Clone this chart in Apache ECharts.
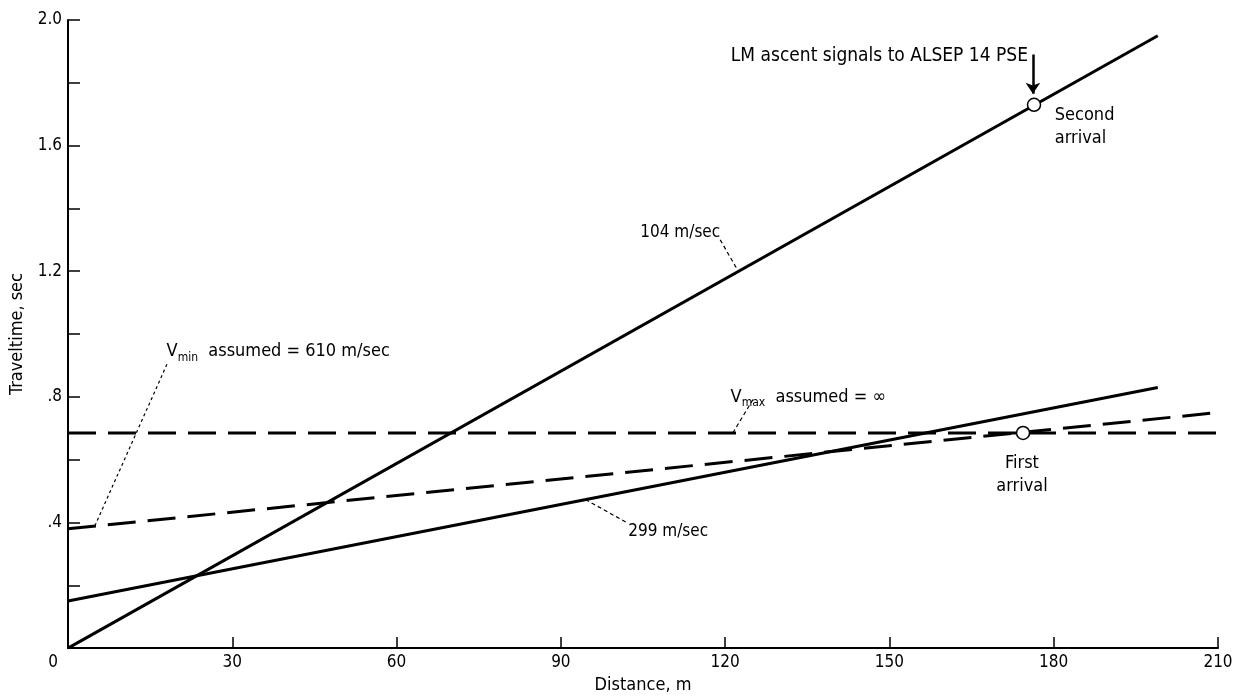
<!DOCTYPE html>
<html>
<head>
<meta charset="utf-8">
<style>
  html, body { margin: 0; padding: 0; background: #fff; }
  #chart { width: 1244px; height: 699px; }
</style>
<script src="https://cdn.jsdelivr.net/npm/echarts@6/dist/echarts.min.js"></script>
</head>
<body>
<div id="chart"></div>
<script>
// ---------- data ----------
const xTickValues = [0, 30, 60, 90, 120, 150, 180, 210];
const xTickLabels = ['0', '30', '60', '90', '120', '150', '180', '210'];
const yTickValues = [0, 0.4, 0.8, 1.2, 1.6, 2.0];
const yTickLabels = ['', '.4', '.8', '1.2', '1.6', '2.0'];

const line104 = [[0, 0], [199, 1.95]];          // 104 m/sec
const line299 = [[0, 0.15], [199, 0.83]];       // 299 m/sec
const vmaxLine = [[0, 0.685], [210, 0.685]];    // Vmax assumed = inf
const vminLine = [[0, 0.38], [210, 0.75]];      // Vmin assumed = 610 m/sec
const firstArrival = [[174.4, 0.685]];
const secondArrival = [[176.4, 1.73]];
const arrowLine = [[176.2, 1.89], [176.2, 1.765]];

const leader104 = [[119.1, 1.30], [122.2, 1.206]];
const leader299 = [[94.5, 0.473], [102, 0.40]];
const leaderVmax = [[121.4, 0.685], [125.2, 0.795]];
const leaderVmin = [[4.9, 0.389], [18.1, 0.905]];

const FONT = "'DejaVu Sans Condensed', 'Liberation Sans Narrow', sans-serif";
const INK = '#000';

function lookup(values, labels, v) {
  for (let i = 0; i < values.length; i++) if (Math.abs(values[i] - v) < 1e-6) return labels[i];
  return '';
}

function lineSeries(data, width, type) {
  return {
    type: 'line', data: data, showSymbol: false, symbol: 'none', silent: true,
    lineStyle: { color: INK, width: width, type: type || 'solid', cap: 'butt', opacity: 1 },
    z: 3
  };
}

function textPoint(coord, text, position, size, extra) {
  return {
    type: 'scatter', data: [coord], symbolSize: 0, silent: true, z: 6,
    itemStyle: { opacity: 1 },
    label: Object.assign({
      show: true, position: position, distance: 0, formatter: text,
      color: INK, opacity: 1, fontFamily: FONT, fontSize: size, lineHeight: 23
    }, extra || {})
  };
}

function subRich(size) {
  return {
    v: { fontFamily: FONT, fontSize: size, color: INK },
    s: { fontFamily: FONT, fontSize: 12, color: INK, padding: [13, 0, 0, 0] },
    t: { fontFamily: FONT, fontSize: size, color: INK }
  };
}

const chart = echarts.init(document.getElementById('chart'), null, { renderer: 'canvas' });

const option = {
  animation: false,
  backgroundColor: '#fff',
  grid: { left: 68, right: 26, top: 20, bottom: 49, containLabel: false },
  xAxis: {
    type: 'value', min: 0, max: 210, interval: 30,
    name: 'Distance, m', nameLocation: 'middle', nameGap: 27,
    nameTextStyle: { fontFamily: FONT, fontSize: 18, color: INK },
    axisLine: { lineStyle: { color: INK, width: 2 } },
    axisTick: { inside: true, length: 11, lineStyle: { color: INK, width: 1.5 } },
    axisLabel: {
      margin: 6, color: INK, fontFamily: FONT, fontSize: 17,
      formatter: v => v === 0 ? '{z|0}' : lookup(xTickValues, xTickLabels, v),
      rich: { z: { fontFamily: FONT, fontSize: 17, color: INK, padding: [0, 30, 0, 0] } }
    },
    splitLine: { show: false }
  },
  yAxis: {
    type: 'value', min: 0, max: 2.0, interval: 0.2,
    name: 'Traveltime, sec', nameLocation: 'middle', nameGap: 40,
    nameTextStyle: { fontFamily: FONT, fontSize: 18, color: INK },
    axisLine: { show: true, lineStyle: { color: INK, width: 2 } },
    axisTick: { show: true, inside: true, length: 12, lineStyle: { color: INK, width: 1.5 } },
    axisLabel: {
      margin: 6, color: INK, fontFamily: FONT, fontSize: 17, interval: 1,
      formatter: v => lookup(yTickValues, yTickLabels, v)
    },
    splitLine: { show: false }
  },
  series: [
    lineSeries(line104, 3),
    lineSeries(line299, 3),
    lineSeries(vmaxLine, 3, [28, 12]),
    lineSeries(vminLine, 3, [28, 12]),
    lineSeries(leader104, 1.2, [4, 3]),
    lineSeries(leader299, 1.2, [4, 3]),
    lineSeries(leaderVmax, 1.2, [4, 3]),
    lineSeries(leaderVmin, 1.2, [3, 3]),
    {
      type: 'lines', coordinateSystem: 'cartesian2d', silent: true, z: 4,
      symbol: ['none', 'arrow'], symbolSize: 11,
      lineStyle: { color: INK, width: 2.5, opacity: 1 },
      data: [{ coords: arrowLine }]
    },
    {
      type: 'scatter', data: firstArrival.concat(secondArrival), symbol: 'circle', symbolSize: 13,
      itemStyle: { color: '#fff', borderColor: INK, borderWidth: 1.5, opacity: 1 }, z: 5, silent: true
    },
    textPoint([175.3, 1.885], 'LM ascent signals to ALSEP 14 PSE', 'left', 19),
    textPoint([180.2, 1.66], 'Second\narrival', 'right', 18),
    textPoint([174.2, 0.552], 'First\narrival', 'inside', 18, { align: 'center' }),
    textPoint([111.8, 1.324], '104 m/sec', 'inside', 17),
    textPoint([109.6, 0.371], '299 m/sec', 'inside', 17),
    textPoint([121.0, 0.80], '{v|V}{s|max}{t|  assumed = ∞}', 'right', 18, { rich: subRich(18) }),
    textPoint([18.0, 0.946], '{v|V}{s|min}{t|  assumed = 610 m/sec}', 'right', 18, { rich: subRich(18) })
  ]
};

chart.setOption(option);
</script>
</body>
</html>
